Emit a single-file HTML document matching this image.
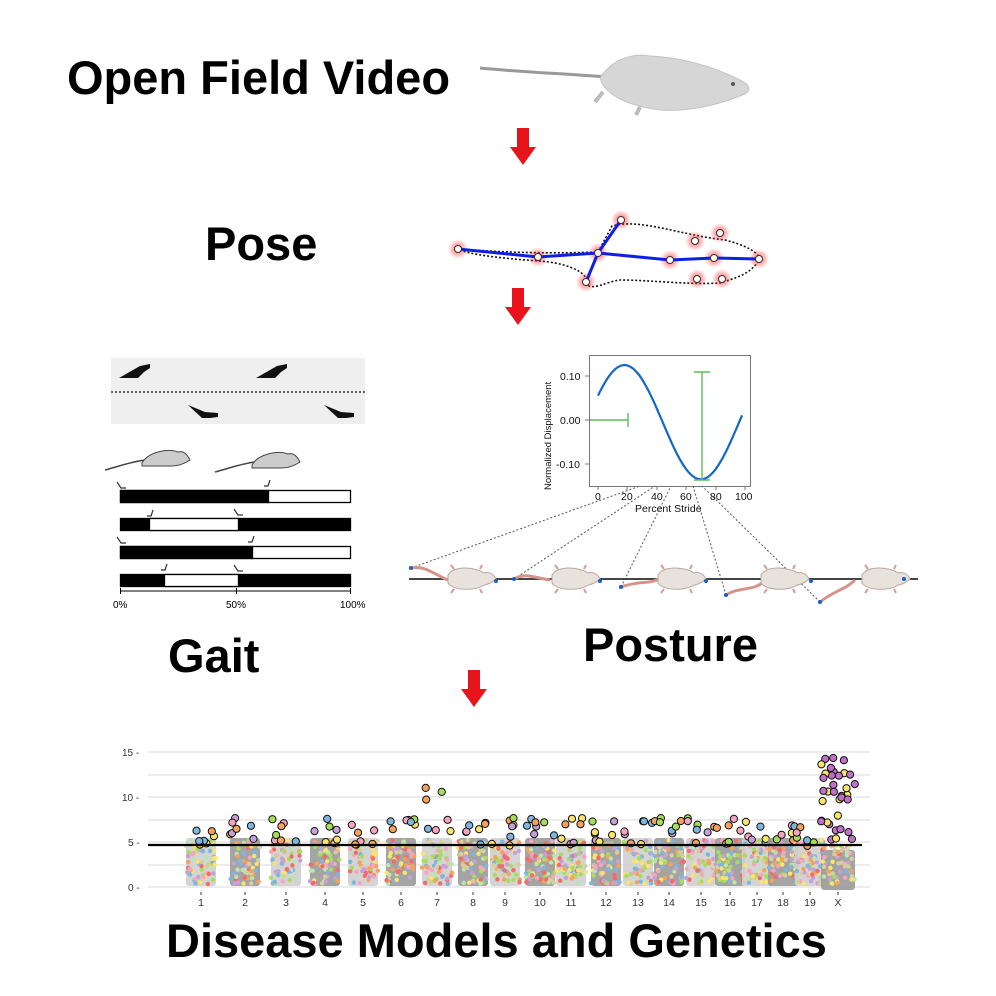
<!DOCTYPE html>
<html><head><meta charset="utf-8"><style>
html,body{margin:0;padding:0;background:#fff;}
body{width:996px;height:996px;position:relative;overflow:hidden;font-family:"Liberation Sans",Arial,sans-serif;}
.t{position:absolute;font-weight:bold;color:#000;white-space:nowrap;line-height:1;font-size:47px;}
</style></head><body>
<div class="t" style="left:67px;top:54px;">Open Field Video</div>
<div class="t" style="left:205px;top:220px;">Pose</div>
<div class="t" style="left:168px;top:632px;">Gait</div>
<div class="t" style="left:583px;top:621px;">Posture</div>
<div class="t" style="left:166px;top:917px;">Disease Models and Genetics</div>

<svg width="996" height="996" style="position:absolute;left:0;top:0" xmlns="http://www.w3.org/2000/svg">
<defs>
<radialGradient id="glow"><stop offset="0" stop-color="#ff3030" stop-opacity="0.8"/><stop offset="1" stop-color="#ff3030" stop-opacity="0"/></radialGradient>
<g id="arrow"><path d="M-6,0 H6 V19 H13 L0,37 L-13,19 H-6 Z" fill="#e8141c"/></g>
<g id="pm"><path d="M-18,-4 C-12,-14 10,-12 18,-6 C24,-8 28,-4 30,0 C26,4 20,6 18,6 C10,12 -12,12 -18,4 Z" fill="#e8e2dc" stroke="#b8a8a0" stroke-width="1"/><path d="M-12,-10 l-3,-4 M14,-10 l2,-4 M-12,10 l-3,4 M14,10 l2,4" stroke="#d99" stroke-width="2"/></g>
</defs>

<!-- top mouse -->
<path d="M480,68 C520,72 570,74 606,77" stroke="#999" stroke-width="3" fill="none"/>
<path d="M600,78 C610,62 630,52 650,56 C690,58 720,70 740,80 C752,86 752,92 740,96 C720,104 690,112 660,110 C630,106 605,96 600,78 Z" fill="#d6d6d6" stroke="#c4c4c4"/>
<path d="M603,92 l-8,10 M640,107 l-4,8" stroke="#bbb" stroke-width="4"/>
<circle cx="733" cy="84" r="2" fill="#555"/>

<use href="#arrow" x="523" y="128"/>
<use href="#arrow" x="518" y="288"/>
<use href="#arrow" x="474" y="670"/>

<!-- pose -->
<path d="M458,249 C500,252 540,254 598,252 L612,226 C640,218 680,235 725,240 C745,245 758,252 760,259 C750,275 735,278 720,283 C690,285 650,280 620,280 C605,282 595,290 587,285 C590,270 560,262 538,261 C500,258 470,255 458,249" fill="none" stroke="#111" stroke-width="1.6" stroke-dasharray="2,2"/>
<g fill="url(#glow)">
<circle cx="458" cy="249" r="10"/><circle cx="538" cy="257" r="10"/><circle cx="598" cy="253" r="10"/><circle cx="670" cy="260" r="10"/><circle cx="714" cy="258" r="10"/><circle cx="759" cy="259" r="10"/><circle cx="621" cy="220" r="10"/><circle cx="586" cy="282" r="10"/><circle cx="695" cy="241" r="10"/><circle cx="720" cy="233" r="10"/><circle cx="697" cy="279" r="10"/><circle cx="722" cy="279" r="10"/>
</g>
<path d="M458,249 L538,257 L598,253 L670,260 L714,258 L759,259 M621,220 L598,253 L586,282" stroke="#1020e0" stroke-width="3" fill="none"/>
<g fill="#fff" stroke="#333" stroke-width="1">
<circle cx="458" cy="249" r="3.5"/><circle cx="538" cy="257" r="3.5"/><circle cx="598" cy="253" r="3.5"/><circle cx="670" cy="260" r="3.5"/><circle cx="714" cy="258" r="3.5"/><circle cx="759" cy="259" r="3.5"/><circle cx="621" cy="220" r="3.5"/><circle cx="586" cy="282" r="3.5"/><circle cx="695" cy="241" r="3.5"/><circle cx="720" cy="233" r="3.5"/><circle cx="697" cy="279" r="3.5"/><circle cx="722" cy="279" r="3.5"/>
</g>

<!-- gait footprints -->
<rect x="111" y="358" width="254" height="66" fill="#efefef"/>
<line x1="111" y1="392" x2="365" y2="392" stroke="#333" stroke-width="1.5" stroke-dasharray="2,2"/>
<g fill="#111">
<path d="M119,378 L140,366 L150,364 L150,368 L144,372 L138,378 Z"/>
<path d="M256,378 L277,366 L287,364 L287,368 L281,372 L275,378 Z"/>
<path d="M188,405 L205,412 L218,413 L218,417 L210,418 L202,418 Z"/>
<path d="M324,405 L341,412 L354,413 L354,417 L346,418 L338,418 Z"/>
</g>
<path d="M105,470 C120,466 130,462 145,460" stroke="#444" stroke-width="1.5" fill="none"/>
<path d="M142,463 C148,452 168,448 178,452 C184,450 188,456 190,460 C184,464 178,466 172,466 L142,466 Z" fill="#ccc" stroke="#444"/>
<path d="M215,472 C230,468 240,464 255,462" stroke="#444" stroke-width="1.5" fill="none"/>
<path d="M252,465 C258,454 278,450 288,454 C294,452 298,458 300,462 C294,466 288,468 282,468 L252,468 Z" fill="#ccc" stroke="#444"/>
<g stroke="#000" stroke-width="1.3">
<rect x="120.5" y="490.5" width="230" height="12" fill="#fff"/><rect x="120.5" y="490.5" width="148" height="12" fill="#000"/>
<rect x="120.5" y="518.5" width="230" height="12" fill="#000"/><rect x="149.5" y="518.5" width="89" height="12" fill="#fff"/>
<rect x="120.5" y="546.5" width="230" height="12" fill="#fff"/><rect x="120.5" y="546.5" width="132" height="12" fill="#000"/>
<rect x="120.5" y="574.5" width="230" height="12" fill="#000"/><rect x="164.5" y="574.5" width="74" height="12" fill="#fff"/>
</g>
<g stroke="#333" stroke-width="1.2" fill="none">
<path d="M117,482 l4,6 l5,0"/><path d="M270,480 l-2,6 l-4,0"/><path d="M153,510 l-2,6 l-4,0"/><path d="M234,509 l4,6 l5,0"/><path d="M117,537 l4,6 l5,0"/><path d="M254,536 l-2,6 l-4,0"/><path d="M167,564 l-2,6 l-4,0"/><path d="M234,565 l4,6 l5,0"/>
</g>
<line x1="120" y1="591" x2="351" y2="591" stroke="#000"/>
<path d="M120.5,588 v6 M236.5,588 v6 M350.5,588 v6" stroke="#000"/>
<g font-size="10" font-family="Liberation Sans" fill="#000"><text x="113" y="608">0%</text><text x="226" y="608">50%</text><text x="340" y="608">100%</text></g>

<!-- posture plot -->
<rect x="589.5" y="355.5" width="161" height="131" fill="none" stroke="#777"/>
<g stroke="#777"><path d="M598,486v4 M627,486v4 M657,486v4 M686,486v4 M716,486v4 M745,486v4 M589,376h-4 M589,420h-4 M589,464h-4"/></g>
<g font-size="10.5" font-family="Liberation Sans" fill="#111">
<text x="595" y="500">0</text><text x="621" y="500">20</text><text x="651" y="500">40</text><text x="680" y="500">60</text><text x="710" y="500">80</text><text x="735" y="500">100</text>
<text x="560" y="380">0.10</text><text x="560" y="424">0.00</text><text x="556" y="468">-0.10</text>
<text x="635" y="512">Percent Stride</text>
<text transform="translate(551,490) rotate(-90)" font-size="9.5">Normalized Displacement</text>
</g>
<path id="curve" fill="none" stroke="#1466c8" stroke-width="2.2" d=""/>
<path d="M590,420 H628 M628,413 V427 M702,372 V480 M694,372 H710 M694,480 H710" stroke="#5cbd5c" stroke-width="1.4" fill="none"/>
<g stroke="#555" stroke-width="1" stroke-dasharray="2,2" fill="none">
<path d="M411,568 L640,486 M514,579 L655,486 M621,587 L671,486 M726,595 L693,486 M820,602 L702,486"/>
</g>
<line x1="409" y1="579" x2="918" y2="579" stroke="#444" stroke-width="2"/>
<g stroke="#d4948a" stroke-width="3" fill="none">
<path d="M411,568 C425,565 435,575 448,580"/><path d="M514,579 C525,572 535,578 550,580"/><path d="M621,587 C640,580 650,585 660,578"/><path d="M726,595 C740,586 755,592 765,580"/><path d="M820,602 C835,590 845,590 855,580"/>
</g>
<use href="#pm" x="466" y="579"/><use href="#pm" x="570" y="579"/><use href="#pm" x="676" y="579"/><use href="#pm" x="779" y="579"/><use href="#pm" x="880" y="579"/>
<g fill="#1a5fc0"><circle cx="411" cy="568" r="2"/><circle cx="514" cy="579" r="2"/><circle cx="621" cy="587" r="2"/><circle cx="726" cy="595" r="2"/><circle cx="820" cy="602" r="2"/><circle cx="496" cy="581" r="2"/><circle cx="600" cy="581" r="2"/><circle cx="706" cy="581" r="2"/><circle cx="811" cy="581" r="2"/><circle cx="904" cy="579" r="2"/></g>

<!-- manhattan -->
<g stroke="#e6e6e6" stroke-width="1.5">
<path d="M148,752H870 M148,775H870 M148,797H870 M148,820H870 M148,842H870 M148,865H870 M148,887H870"/>
</g>
<g font-size="10" font-family="Liberation Sans" fill="#333">
<text x="122" y="756">15 -</text><text x="122" y="801">10 -</text><text x="128" y="846">5 -</text><text x="128" y="891">0 -</text>
</g>
<g id="dots"></g>
<line x1="148" y1="845" x2="862" y2="845" stroke="#000" stroke-width="2.2"/>
<g id="labs" font-size="10.5" font-family="Liberation Sans" fill="#333" text-anchor="middle"></g>
</svg>
<script>
(function(){
var d="";for(var p=0;p<=98;p+=2){var x=598+1.47*p;
var ph=(p-18)/(52)*Math.PI;var v2=(Math.cos(ph))*0.13-0.005;var y=420-440*v2;d+=(p?"L":"M")+x.toFixed(1)+","+y.toFixed(1);}
document.getElementById("curve").setAttribute("d",d);
var xs=[201,245,286,325,363,401,437,473,505,540,571,606,638,669,701,730,757,783,810,838];
var names=["1","2","3","4","5","6","7","8","9","10","11","12","13","14","15","16","17","18","19","X"];
var pal=["#a6dd5a","#f9e56b","#c8a0d8","#f7a25b","#7fb6e0","#f6a5c0","#bde3b0","#f26c6c","#d7cf9a"];
var s=1;function r(){s=(s*16807)%2147483647;return s/2147483647;}
var g="",L="";
for(var i=0;i<20;i++){var cx=xs[i],w=(i<19?15:17);var base=(i%2?"#9a9a9a":"#cfcfcf");
g+='<rect x="'+(cx-w)+'" y="'+(i==19?850:838)+'" width="'+(2*w)+'" height="'+(i==19?40:48)+'" rx="3" fill="'+base+'" opacity="0.9"/>';
for(var k=0;k<60;k++){var x=cx-w+r()*2*w,y=840+r()*44;g+='<circle cx="'+x.toFixed(1)+'" cy="'+y.toFixed(1)+'" r="2.2" fill="'+pal[Math.floor(r()*9)]+'"/>';}
var n=(i==19?34:7);for(var k=0;k<n;k++){var x=cx-w+r()*2*w;var y=(i==19?(758+r()*90):(818+r()*28));if(i==6&&k<3)y=785+r()*15;
var c=(i==19?(r()<0.6?"#c070c8":"#f9e56b"):pal[Math.floor(r()*6)]);
g+='<circle cx="'+x.toFixed(1)+'" cy="'+y.toFixed(1)+'" r="3.6" fill="'+c+'" stroke="#111" stroke-width="1"/>';}
L+='<text x="'+cx+'" y="906">'+names[i]+'</text><line x1="'+cx+'" y1="892" x2="'+cx+'" y2="895" stroke="#333"/>';}
document.getElementById("dots").innerHTML=g;document.getElementById("labs").innerHTML=L;
})();
</script>
</body></html>
